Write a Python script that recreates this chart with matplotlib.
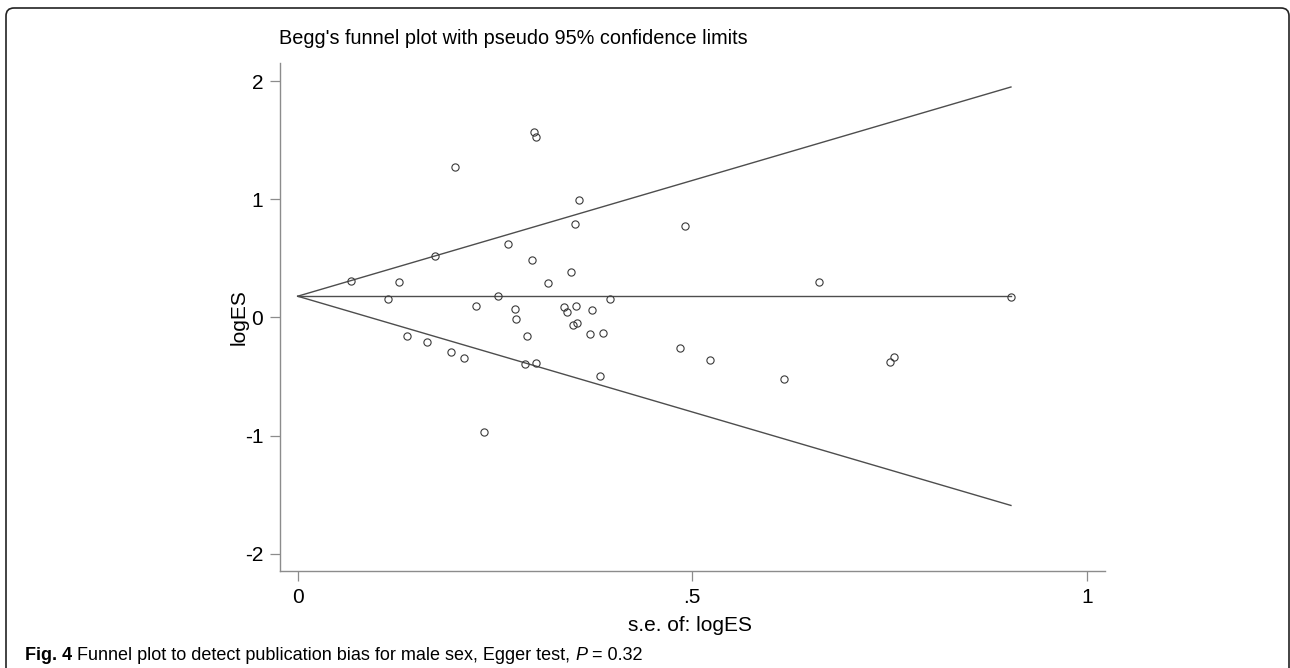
import matplotlib

matplotlib.use("Agg")
import matplotlib.pyplot as plt
from matplotlib.patches import FancyBboxPatch
from matplotlib.transforms import IdentityTransform

# standard error and log effect size of each study
se = [
    0.068, 0.115, 0.129, 0.139, 0.164, 0.174, 0.194, 0.200, 0.211, 0.226,
    0.236, 0.254, 0.267, 0.275, 0.277, 0.288, 0.291, 0.297, 0.300, 0.302,
    0.302, 0.317, 0.338, 0.341, 0.346, 0.349, 0.352, 0.353, 0.354, 0.356,
    0.370, 0.373, 0.383, 0.387, 0.396, 0.484, 0.491, 0.522, 0.616, 0.661,
    0.751, 0.756, 0.904,
]
log_es = [
    0.307, 0.159, 0.303, -0.159, -0.210, 0.518, -0.292, 1.272, -0.345, 0.100,
    -0.970, 0.180, 0.625, 0.069, -0.015, -0.396, -0.159, 0.489, 1.571, -0.383,
    1.526, 0.292, 0.086, 0.047, 0.385, -0.064, 0.792, 0.100, -0.044, 0.992,
    -0.137, 0.061, -0.493, -0.134, 0.159, -0.256, 0.775, -0.362, -0.523, 0.298,
    -0.374, -0.332, 0.171,
]
pooled = 0.18
z95 = 1.96

x_ticks = [0, 0.5, 1]
x_tick_labels = ["0", ".5", "1"]
y_ticks = [-2, -1, 0, 1, 2]
y_tick_labels = ["-2", "-1", "0", "1", "2"]

W, H = 1290, 668
AXIS_GRAY = "#8c8c8c"
LINE_GRAY = "#4d4d4d"
SANS = ["Liberation Sans", "DejaVu Sans"]
NARROW = ["Liberation Sans Narrow", "Liberation Sans", "DejaVu Sans"]


def _fig_xy(px, py):
    return px / W, 1 - py / H


fig = plt.figure(figsize=(W / 100, H / 100), dpi=100)
ax = fig.add_axes([280 / W, (H - 571) / H, 825 / W, 508 / H])

se_max = max(se)
ax.plot([0, se_max], [pooled, pooled + z95 * se_max], color=LINE_GRAY, lw=1.0)
ax.plot([0, se_max], [pooled, pooled - z95 * se_max], color=LINE_GRAY, lw=1.0)
ax.plot([0, se_max], [pooled, pooled], color=LINE_GRAY, lw=1.0)
ax.plot(se, log_es, linestyle="none", marker="o", markersize=5.2,
        markerfacecolor="none", markeredgecolor="#3a3a3a", markeredgewidth=0.8)

ax.set_xlim(-0.0224, 1.0232)
ax.set_ylim(-2.147, 2.155)
ax.set_xticks(x_ticks, x_tick_labels, fontfamily=SANS, fontsize=15)
ax.set_yticks(y_ticks, y_tick_labels, fontfamily=SANS, fontsize=15)
ax.tick_params(direction="out", length=7, width=0.9, color=AXIS_GRAY, pad=5)
for side in ("top", "right"):
    ax.spines[side].set_visible(False)
for side in ("left", "bottom"):
    ax.spines[side].set_color(AXIS_GRAY)
    ax.spines[side].set_linewidth(1.0)

ax.set_xlabel("s.e. of: logES", fontfamily=SANS, fontsize=15)
ax.xaxis.set_label_coords(0.497, -0.088)
ax.set_ylabel("logES", fontfamily=SANS, fontsize=15)
ax.yaxis.set_label_coords(-0.038, 0.5)

fig.text(*_fig_xy(279, 38), "Begg's funnel plot with pseudo 95% confidence limits",
         fontfamily=SANS, fontsize=14.3, ha="left", va="center")

# caption, drawn piece by piece so that "Fig. 4" is bold and P is italic
renderer = fig.canvas.get_renderer()
cx, cy = 25, 656
pieces = [
    ("Fig. 4", "bold", "normal"),
    (" Funnel plot to detect publication bias for male sex, Egger test, ", "normal", "normal"),
    ("P", "normal", "italic"),
    (" = 0.32", "normal", "normal"),
]
for text, weight, style in pieces:
    t = fig.text(*_fig_xy(cx, cy), text, fontfamily=NARROW, fontsize=13,
                 fontweight=weight, fontstyle=style, ha="left", va="center")
    cx += t.get_window_extent(renderer).width

border = FancyBboxPatch((6, -20), 1283, H - 8 + 20, boxstyle="round,pad=0,rounding_size=8",
                        transform=IdentityTransform(), fill=False, edgecolor="#222222",
                        linewidth=1.2, clip_on=False)
fig.patches.append(border)

fig.savefig("out.png", dpi=100)
plt.close(fig)
